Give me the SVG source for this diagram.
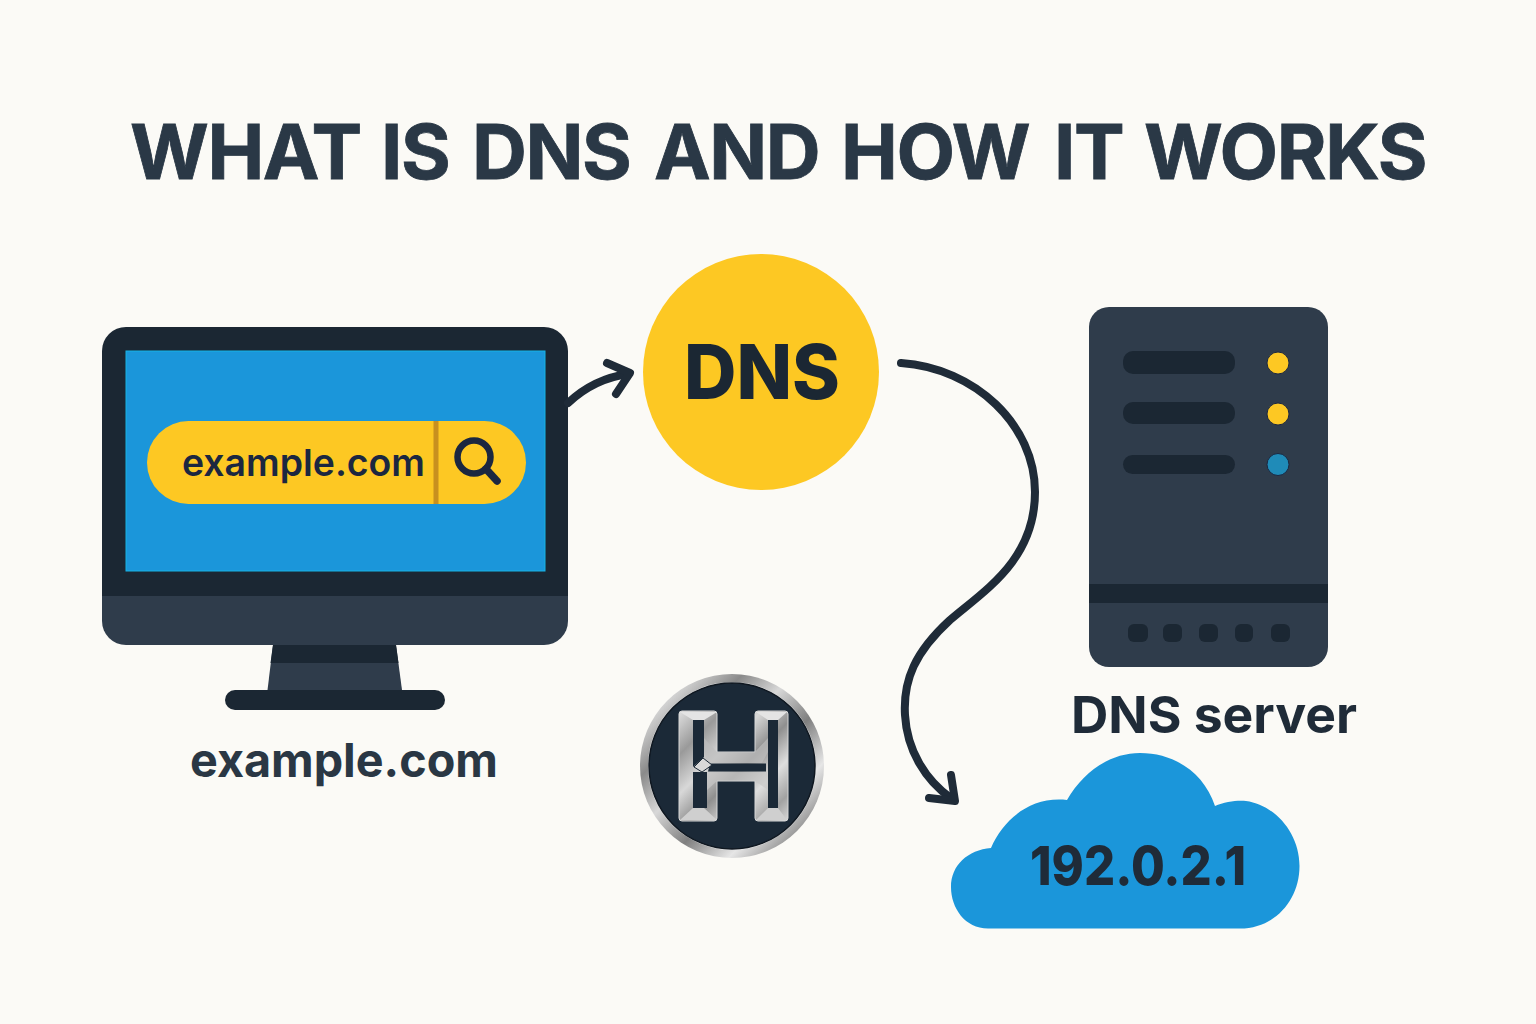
<svg xmlns="http://www.w3.org/2000/svg" width="1536" height="1024" viewBox="0 0 1536 1024">
<style>
.t{font-family:Inter,"Liberation Sans",sans-serif;text-anchor:middle}
.dk{fill:#1b2733}.md{fill:#2f3c4b}
.wire{fill:none;stroke:#1f2b38;stroke-linecap:round;stroke-linejoin:round;stroke-width:8}
</style>
<defs>
<linearGradient id="metal" x1="0" y1="0" x2="1" y2="1">
<stop offset="0" stop-color="#e0e0e0"/><stop offset=".2" stop-color="#9a9a9a"/><stop offset=".38" stop-color="#d8d8d8"/><stop offset=".55" stop-color="#8f8f8f"/><stop offset=".72" stop-color="#dedede"/><stop offset=".88" stop-color="#a2a2a2"/><stop offset="1" stop-color="#d8d8d8"/>
</linearGradient>
<linearGradient id="ring" x1="0" y1="0" x2="1" y2="1">
<stop offset="0" stop-color="#777"/><stop offset=".12" stop-color="#e2e2e2"/><stop offset=".28" stop-color="#8a8a8a"/><stop offset=".42" stop-color="#d8d8d8"/><stop offset=".58" stop-color="#7f7f7f"/><stop offset=".74" stop-color="#e6e6e6"/><stop offset=".88" stop-color="#8a8a8a"/><stop offset="1" stop-color="#dedede"/>
</linearGradient>
</defs>
<rect width="1536" height="1024" fill="#fbfaf6"/>
<text id="title" font-family="Inter,'Liberation Sans',sans-serif" y="179" font-size="76" font-weight="700" letter-spacing="-1.400" fill="#2a3846" stroke="#2a3846" stroke-width=".8"><tspan x="130">WHAT</tspan><tspan x="381">IS</tspan><tspan x="472">DNS</tspan><tspan x="654">AND</tspan><tspan x="841">HOW</tspan><tspan x="1054">IT</tspan><tspan x="1144">WORKS</tspan></text>

<g id="computer">
<path class="md" d="M102 590H568V621a24 24 0 0 1-24 24H126a24 24 0 0 1-24-24Z"/>
<path class="dk" d="M126 327H544a24 24 0 0 1 24 24V596H102V351a24 24 0 0 1 24-24Z"/>
<path class="md" d="M273 645H396L402 690H267.500Z"/>
<path class="dk" d="M273 645H396L398.500 663H270.500Z"/>
<rect class="dk" x="225" y="690" width="220" height="20" rx="10"/>
<rect x="126" y="351" width="419" height="220" fill="#1b96da" stroke="#16b4e6" stroke-width="1"/>
<rect x="147" y="421" width="379" height="83" rx="41.500" fill="#fdc823"/>
<rect x="433.500" y="421" width="5" height="83" fill="#c8901f"/>
<text class="t" x="303.500" y="476" font-size="37.500" font-weight="600" fill="#1b2740" textLength="243" lengthAdjust="spacingAndGlyphs">example.com</text>
<circle cx="474" cy="457" r="16.500" fill="none" stroke="#1b2740" stroke-width="6.500"/>
<path d="M486 469L497 481" fill="none" stroke="#1b2740" stroke-width="7.500" stroke-linecap="round"/>
<text class="t" x="344" y="777" font-size="47" font-weight="700" fill="#2a3744" textLength="308" lengthAdjust="spacingAndGlyphs">example.com</text>
</g>

<g id="dns">
<circle cx="761" cy="372" r="118" fill="#fdc823"/>
<text class="t" x="762" y="399" font-size="75" font-weight="800" fill="#1b2733" textLength="156" lengthAdjust="spacingAndGlyphs">DNS</text>
</g>

<g id="server">
<rect class="md" x="1089" y="307" width="239" height="360" rx="20"/>
<rect class="dk" x="1089" y="584" width="239" height="19"/>
<rect class="dk" x="1123" y="351" width="112" height="23" rx="10"/>
<rect class="dk" x="1123" y="402" width="112" height="22" rx="10"/>
<rect class="dk" x="1123" y="455" width="112" height="19" rx="9.500"/>
<circle cx="1278" cy="363" r="11" fill="#fdc823" stroke="#1b2740"/>
<circle cx="1278" cy="414" r="11" fill="#fdc823" stroke="#1b2740"/>
<circle cx="1278" cy="464.500" r="11" fill="#1f8bb8" stroke="#1b2740"/>
<rect class="dk" x="1128" y="624" width="20" height="18" rx="6"/>
<rect class="dk" x="1163" y="624" width="19" height="18" rx="6"/>
<rect class="dk" x="1199" y="624" width="19" height="18" rx="6"/>
<rect class="dk" x="1235" y="624" width="18" height="18" rx="6"/>
<rect class="dk" x="1271" y="624" width="19" height="18" rx="6"/>
<text class="t" x="1214" y="733" font-size="51" font-weight="700" fill="#1f2b38" textLength="286" lengthAdjust="spacingAndGlyphs">DNS server</text>
</g>

<g id="cloud">
<path d="M988 928.500C965 928.500 951 908 951 887C951 865 968 850 991 848C1003 820 1030 796 1067 800C1083 772 1110 753 1140 753C1175 753 1204 773 1215 806C1225 801 1240 800 1246 801C1275 805 1299.500 833 1299.500 866C1299.500 900 1275 928.500 1240 928.500Z" fill="#1b96da"/>
<text class="t" x="1138" y="885" font-size="54" font-weight="800" fill="#1f2b38" textLength="216" lengthAdjust="spacingAndGlyphs">192.0.2.1</text>
</g>

<g id="logo">
<circle cx="732" cy="766" r="92" fill="url(#ring)"/>
<circle cx="732" cy="766" r="84" fill="#eeeeee"/>
<circle cx="732" cy="766" r="83" fill="#1b2937" stroke="#0f1720" stroke-width="1.500"/>
<path d="M682 711H714Q717 711 717 714V752H755V714Q755 711 758 711H785Q788 711 788 714V818Q788 821 785 821H758Q755 821 755 818V781H717V818Q717 821 714 821H682Q679 821 679 818V714Q679 711 682 711Z" fill="url(#metal)" stroke="#d8d8d8"/>
<path d="M680 712H717L704 720H693ZM756 712H787L778 720H768Z" fill="#e4e4e4"/>
<path d="M680 820H717L704 808H693ZM756 820H787L778 808H768Z" fill="#cfcfcf"/>
<path d="M717 752H755L768 738V752L762 763H706L704 738Z" fill="#bdbdbd" opacity=".7"/>
<path d="M706 771.500H766L768 775V790L755 781H717L707 790Z" fill="#c8c8c8" opacity=".7"/>
<path d="M693 720H704V757L693 767ZM693 772H704L707 772V808H693ZM768 720H778V808H768ZM710 763.500H766V771.500H708Z" fill="#1b2937"/>
<path d="M694 767L703 758L712 765L702 772Z" fill="#d8d8d8" stroke="#1b2937" stroke-width="1"/>
</g>

<g id="connectors">
<path class="wire" d="M568 403C585 387 606 377 628 374" stroke-linecap="butt"/>
<path class="wire" d="M607 363L630 373L616 394"/>
<path class="wire" d="M901 363C975 368 1035 425 1035 492C1035 560 985 590 950 620C915 652 903 680 905 715C907 750 925 780 952 799"/>
<path class="wire" d="M929 798L955 801L951 775"/>
</g>
</svg>
